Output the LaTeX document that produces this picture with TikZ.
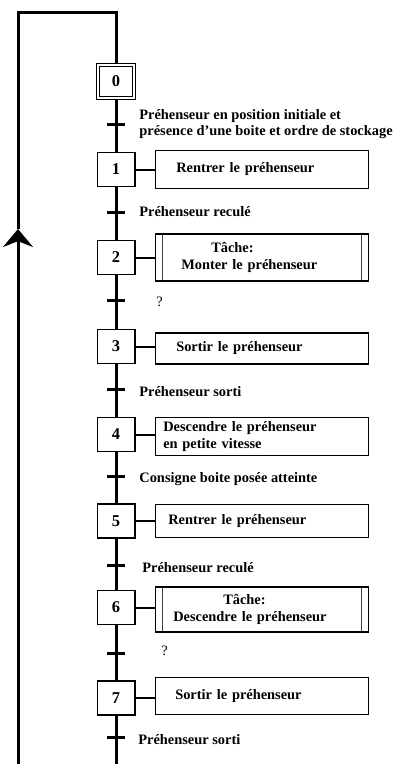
\documentclass[tikz,border=0pt]{standalone}
\usepackage{fontspec}
\setmainfont{Liberation Serif}
\usetikzlibrary{arrows.meta,positioning}

\begin{document}
\begin{tikzpicture}[
  x=1pt,y=1pt,
  node distance=19pt,
  every node/.style={font=\bfseries\fontsize{14.4}{16.5}\selectfont},
  flow/.style={line width=3pt},
  link/.style={line width=2pt},
  initstep/.style={draw,double,double distance=2.5pt,line width=1.2pt,minimum width=36pt,minimum height=33pt,inner sep=0pt,font=\bfseries\fontsize{16.5}{18}\selectfont},
  stepbox/.style={draw,line width=1.5pt,minimum width=37.5pt,minimum height=34pt,inner sep=0pt,font=\bfseries\fontsize{16.5}{18}\selectfont},
  action/.style={draw,line width=1.5pt,minimum width=213pt,text width=197pt,inner xsep=8pt,inner ysep=0pt,align=left},
  task/.style={action,path picture={
      \draw[line width=1pt,black!75]
        ([xshift=7pt]path picture bounding box.north west) -- ([xshift=7pt]path picture bounding box.south west)
        ([xshift=-7pt]path picture bounding box.north east) -- ([xshift=-7pt]path picture bounding box.south east);}},
  trans/.style={fill,minimum width=18pt,minimum height=3pt,inner sep=0pt},
  cond/.style={inner sep=0pt,align=left},
  query/.style={inner sep=0pt,font=\fontsize{14.4}{16.5}\selectfont}
]
  \useasboundingbox (0,0) rectangle (396,-764);

  % steps
  \node[initstep] (s0) at (116,-81.5) {0};
  \node[stepbox] (s1) at (116,-169.5) {1};
  \node[stepbox] (s2) at (116,-257.5) {2};
  \node[stepbox] (s3) at (116,-346.5) {3};
  \node[stepbox] (s4) at (116,-434.5) {4};
  \node[stepbox] (s5) at (116,-521) {5};
  \node[stepbox] (s6) at (116,-607.5) {6};
  \node[stepbox] (s7) at (116,-698) {7};

  % actions
  \node[action,minimum height=38pt,right=of s1] (a1) {\hspace*{13pt}Rentrer le préhenseur};
  \node[task,minimum height=47pt,right=of s2] (a2) {\hspace*{48pt}Tâche:\\\hspace*{18pt}Monter le préhenseur};
  \node[action,minimum height=31pt,right=of s3,yshift=-2pt] (a3) {\hspace*{13pt}Sortir le préhenseur};
  \node[action,minimum height=38pt,right=of s4,yshift=-2pt] (a4) {Descendre le préhenseur\\en petite vitesse};
  \node[action,minimum height=33pt,right=of s5] (a5) {\hspace*{5pt}Rentrer le préhenseur};
  \node[task,minimum height=45pt,right=of s6,yshift=-2pt] (a6) {\hspace*{60pt}Tâche:\\\hspace*{10pt}Descendre le préhenseur};
  \node[action,minimum height=37pt,right=of s7,yshift=2pt] (a7) {\hspace*{12pt}Sortir le préhenseur};

  % transitions
  \node[trans] (t1) at (116,-124) {};
  \node[trans] (t2) at (116,-212) {};
  \node[trans] (t3) at (116,-300) {};
  \node[trans] (t4) at (116,-389) {};
  \node[trans] (t5) at (116,-476) {};
  \node[trans] (t6) at (116,-565) {};
  \node[trans] (t7) at (116,-653) {};
  \node[trans] (t8) at (116,-737) {};

  % receptivities
  \node[cond,right=14pt of t1] (c1) {Préhenseur en position initiale et\\présence d'une boite et ordre de stockage};
  \node[cond,right=14pt of t2] (c2) {Préhenseur reculé};
  \node[query,right=31pt of t3,yshift=-2pt] (c3) {?};
  \node[cond,right=14pt of t4,yshift=-3pt] (c4) {Préhenseur sorti};
  \node[cond,right=14pt of t5,yshift=-3pt] (c5) {Consigne boite posée atteinte};
  \node[cond,right=17pt of t6,yshift=-3pt] (c6) {Préhenseur reculé};
  \node[query,right=36pt of t7,yshift=2pt] (c7) {?};
  \node[cond,right=13pt of t8,yshift=-3pt] (c8) {Préhenseur sorti};

  \coordinate (top) at (116,-12);
  \coordinate (bot) at (116,-764);
  \coordinate (ret) at (18,-764);
  \coordinate (arr) at (18,-229);

  % main line
  \draw[flow] (s0.south) -- (t1.center) -- (s1.north);
  \draw[flow] (s1.south) -- (t2.center) -- (s2.north);
  \draw[flow] (s2.south) -- (t3.center) -- (s3.north);
  \draw[flow] (s3.south) -- (t4.center) -- (s4.north);
  \draw[flow] (s4.south) -- (t5.center) -- (s5.north);
  \draw[flow] (s5.south) -- (t6.center) -- (s6.north);
  \draw[flow] (s6.south) -- (t7.center) -- (s7.north);
  \draw[flow] (s7.south) -- (t8.center) -- (bot);

  % return
  \draw[flow,-{Stealth[length=18pt,width=30pt]}] (ret) -- (arr);
  \draw[flow] (arr) |- (top) -- (s0.north);

  % links to actions
  \draw[link] (s1.east) -- (s1.east -| a1.west);
  \draw[link] (s2.east) -- (s2.east -| a2.west);
  \draw[link] (s3.east) -- (s3.east -| a3.west);
  \draw[link] (s4.east) -- (s4.east -| a4.west);
  \draw[link] (s5.east) -- (s5.east -| a5.west);
  \draw[link] (s6.east) -- (s6.east -| a6.west);
  \draw[link] (s7.east) -- (s7.east -| a7.west);
\end{tikzpicture}
\end{document}
